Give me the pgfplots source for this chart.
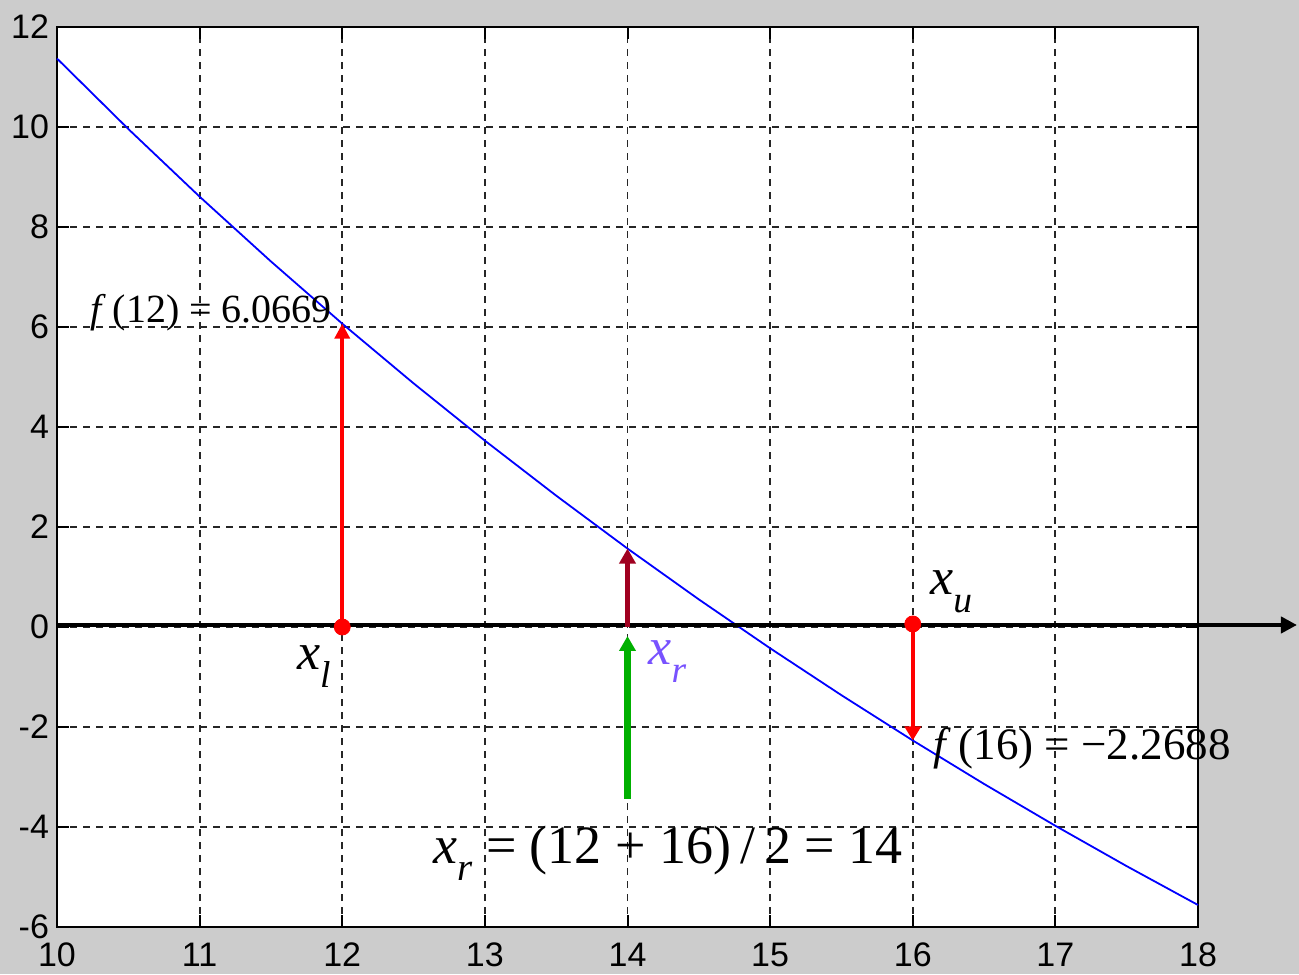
\documentclass[border=0pt]{standalone}
\usepackage{fontspec}
\setmainfont{Liberation Serif}
\setsansfont{Liberation Sans}
\usepackage{graphicx}
\usepackage{pgfplots}
\pgfplotsset{compat=1.18}
\usetikzlibrary{arrows.meta}
\definecolor{bggray}{RGB}{204,204,204}
\definecolor{maroon}{RGB}{160,0,32}
\definecolor{mygreen}{RGB}{0,176,0}
\definecolor{violetx}{RGB}{120,82,255}
\newcommand{\sbs}[1]{\raisebox{-0.33em}{\scalebox{0.72}{\textit{#1}}}}
\begin{document}
\begin{tikzpicture}[x=1pt,y=1pt]
\fill[bggray] (0,0) rectangle (649.5,487);
\useasboundingbox (0,0) rectangle (649.5,487);
\begin{axis}[
  at={(28.5pt,23.5pt)}, anchor=south west,
  scale only axis, width=570.5pt, height=450pt,
  xmin=10, xmax=18, ymin=-6, ymax=12,
  xtick={10,11,...,18}, ytick={-6,-4,...,12},
  axis background/.style={fill=white},
  axis line style={black, line width=1pt},
  major tick length=6pt,
  tick style={black, line width=1pt},
  grid=major,
  major grid style={black!85, line width=0.9pt, dash pattern=on 3.5pt off 3pt},
  /pgf/number format/assume math mode=true,
  tick label style={font=\sffamily\fontsize{17}{17}\selectfont},
  xticklabel style={yshift=-4.5pt},
  yticklabel style={xshift=-0.5pt},
  clip=false,
]
\addplot[blue, line width=0.9pt] coordinates {
(10,11.369) (10.5,9.960) (11,8.607) (11.5,7.311) (12,6.0669) (12.5,4.873)
(13,3.727) (13.5,2.627) (14,1.5687) (14.5,0.552) (15,-0.425) (15.5,-1.364)
(16,-2.2688) (16.5,-3.139) (17,-3.976) (17.5,-4.783) (18,-5.56)};
% x axis arrow
\addplot[black, line width=2pt, -{Triangle[length=8pt,width=8pt]}] coordinates {(10,0.04) (18.694,0.04)};
% arrows
\addplot[red, line width=1.8pt, -{Triangle[length=7.5pt,width=7.5pt]}] coordinates {(12,0) (12,6.0669)};
\addplot[red, line width=1.8pt, -{Triangle[length=7pt,width=8pt]}] coordinates {(16,0.06) (16,-2.2688)};
\addplot[maroon, line width=2.4pt, -{Triangle[length=7.5pt,width=8pt]}] coordinates {(14,0) (14,1.5687)};
\addplot[mygreen, line width=3.2pt, -{Triangle[length=7.5pt,width=8pt]}] coordinates {(14,-3.44) (14,-0.18)};
% dots
\addplot[only marks, mark=*, mark size=4pt, red, mark options={draw=red, fill=red}] coordinates {(12,0) (16,0.06)};
% labels
\node[anchor=base west, inner sep=0pt, font=\fontsize{20}{20}\selectfont] at (axis cs:10.231,6.08) {\textit{f}\,(12) = 6.0669};
\node[anchor=base west, inner sep=0pt, font=\fontsize{22.5}{22.5}\selectfont] at (axis cs:16.142,-2.66) {\textit{f}\,(16) = −2.2688};
\node[anchor=base west, inner sep=0pt, font=\fontsize{26}{26}\selectfont] at (axis cs:11.68,-0.86) {\textit{x}\sbs{l}};
\node[anchor=base west, inner sep=0pt, font=\fontsize{26}{26}\selectfont, text=violetx] at (axis cs:14.144,-0.76) {\textit{x}\sbs{r}};
\node[anchor=base west, inner sep=0pt, font=\fontsize{26}{26}\selectfont] at (axis cs:16.121,0.64) {\textit{x}\sbs{u}};
\node[anchor=base west, inner sep=0pt, font=\fontsize{27}{27}\selectfont] at (axis cs:12.636,-4.72) {\textit{x}\sbs{r} = (12 + 16)\,/\,2 = 14};
\end{axis}
\end{tikzpicture}
\end{document}
